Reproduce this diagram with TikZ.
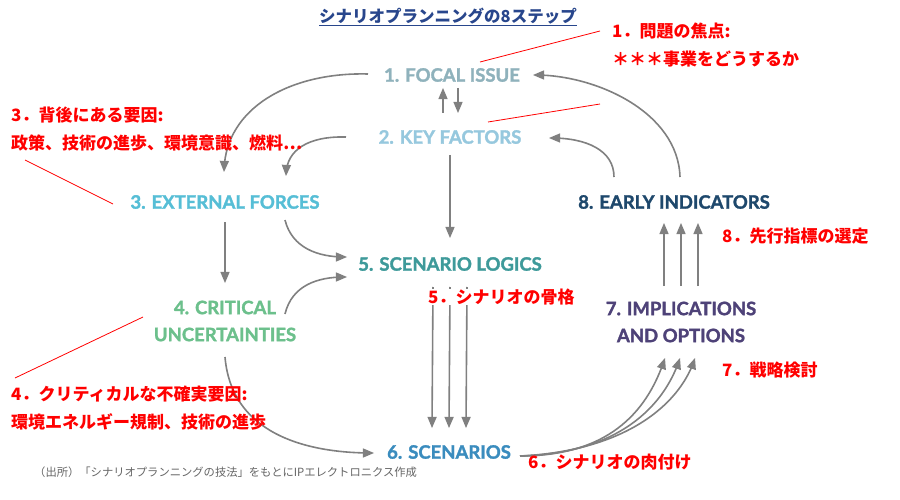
\documentclass[tikz,border=0pt]{standalone}
\usepackage{fontspec}
\setmainfont{Lato}
\newfontfamily\stagefont[BoldFeatures={FakeBold=1.6}]{Lato}
\newfontfamily\cjk{Noto Sans CJK JP}
\usetikzlibrary{calc}
\usetikzlibrary{arrows}
\definecolor{titleblue}{RGB}{40,70,140}
\definecolor{focalc}{RGB}{143,178,188}
\definecolor{keyc}{RGB}{150,200,222}
\definecolor{extc}{RGB}{86,190,214}
\definecolor{critc}{RGB}{108,192,140}
\definecolor{logicc}{RGB}{62,154,154}
\definecolor{scenc}{RGB}{58,140,190}
\definecolor{implc}{RGB}{78,66,120}
\definecolor{earlyc}{RGB}{30,72,108}
\definecolor{flowgray}{RGB}{128,128,128}
\definecolor{notered}{RGB}{255,0,0}
\tikzset{
  stage/.style={inner sep=0pt, align=center, font=\stagefont\bfseries\fontsize{18.5}{27}\selectfont},
  note/.style={inner sep=0pt, anchor=north west, align=left, text=notered,
    font=\cjk\bfseries\fontsize{17}{27.5}\selectfont},
  flow/.style={draw=flowgray, line width=1.6pt, -triangle 45},
  leader/.style={draw=notered, line width=0.8pt}
}

\begin{document}
\begin{tikzpicture}[x=1pt,y=-1pt]
    \path[use as bounding box, fill=white] (0,0) rectangle (900,500);
    % Title.
    \node[text=titleblue, font=\cjk\bfseries\fontsize{16.5}{16.5}\selectfont] (title) at (448,17)
      {\underline{シナリオプランニングの8ステップ}};
    % Stages.
    \node[stage, text=focalc] (focal) at (452,75) {1. FOCAL ISSUE};
    \node[stage, text=keyc] (keyfac) at (450,137) {2. KEY FACTORS};
    \node[stage, text=extc] (extf) at (225,202) {3. EXTERNAL FORCES};
    \node[stage, text=critc] (crit) at (225,321) {4. CRITICAL\\UNCERTAINTIES};
    \node[stage, text=logicc] (scenlog) at (450,264) {5. SCENARIO LOGICS};
    \node[stage, text=scenc] (scen) at (449,452) {6. SCENARIOS};
    \node[stage, text=implc] (implic) at (681,322) {7. IMPLICATIONS\\AND OPTIONS};
    \node[stage, text=earlyc] (early) at (674,202) {8. EARLY INDICATORS};
    % Flows between the stages.
    \draw[flow] ($(keyfac)+(-7,-24)$) -- ($(focal)+(-9,13)$);
    \draw[flow] ($(focal)+(6,13)$) -- ($(keyfac)+(8,-24)$);
    \draw[flow] ($(early)+(6,-25)$) .. controls (678,112) and (596,75) .. ($(focal)+(81,0)$);
    \draw[flow] ($(early)+(-60,-25)$) .. controls (614,150) and (586,138) .. ($(keyfac)+(99,1)$);
    \draw[flow] ($(focal)+(-84,-1)$) .. controls (290,72) and (226,108) .. ($(extf)+(-1,-30)$);
    \draw[flow] ($(keyfac)+(-104,0)$) .. controls (308,136) and (287,150) .. ($(extf)+(61,-26)$);
    \draw[flow] ($(keyfac)+(0,18)$) -- ($(scenlog)+(0,-26)$);
    \draw[flow] ($(extf)+(0,20)$) -- ($(crit)+(0,-38)$);
    \draw[flow] ($(extf)+(60,18)$) .. controls (292,248) and (318,257) .. ($(scenlog)+(-103,-7)$);
    \draw[flow] ($(crit)+(60,-7)$) .. controls (292,285) and (318,277) .. ($(scenlog)+(-103,13)$);
    \draw[flow] ($(crit)+(0,36)$) .. controls (232,440) and (318,453) .. ($(scen)+(-75,1)$);
    \foreach \dx in {-17,0,17}
      \draw[flow] ($(scenlog)+(\dx,23)$) -- ($(scen)+(\dx,-24)$);
    \foreach \dx/\bend in {-16/0,-1/5,14/10}
      \draw[flow] ($(scen)+(71,4)$) .. controls ({615+\bend},{456-\bend/2}) and ({664+\dx+1},405) .. ($(implic)+(\dx,36)$);
    \foreach \dx in {-17,0,17}
      \draw[flow] ($(implic)+(\dx,-36)$) -- ($(early)+(\dx+7,21)$);
    % Notes.
    \node[note] (note1) at (612,23) {1．問題の焦点:\\＊＊＊事業をどうするか};
    \node[note] (note3) at (11,107) {3．背後にある要因:\\政策、技術の進歩、環境意識、燃料⋯};
    \node[note] (note4) at (11,386) {4．クリティカルな不確実要因:\\環境エネルギー規制、技術の進歩};
    \node[note, fill=white] (note5) at (428,289) {5．シナリオの骨格};
    \node[note] (note6) at (528,454) {6．シナリオの肉付け};
    \node[note] (note7) at (722,362) {7．戦略検討};
    \node[note] (note8) at (722,228) {8．先行指標の選定};
    \coordinate (tip1) at (480,62);
    \coordinate (tip2) at (488,122);
    \coordinate (tip3) at (113,204);
    \coordinate (tip4) at (143,317);
    \draw[leader] (tip1) -- (600,31);
    \draw[leader] (tip2) -- (600,104);
    \draw[leader] (25,160) -- (tip3);
    \draw[leader] (15,378) -- (tip4);
    % Source.
    \node[anchor=west, inner sep=0pt, text=black!60, font=\cjk\fontsize{11.3}{11.3}\selectfont] (source) at (34,472)
      {（出所）「シナリオプランニングの技法」をもとにIPエレクトロニクス作成};
\end{tikzpicture}
\end{document}
